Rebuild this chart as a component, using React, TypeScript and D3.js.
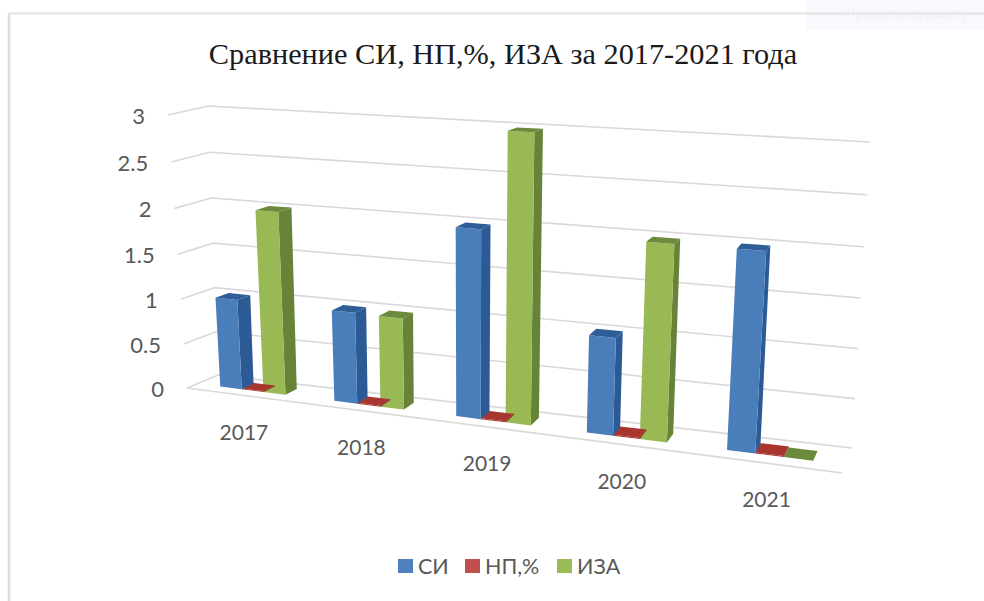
import React from "react";
import * as d3 from "d3";

const years = ["2017", "2018", "2019", "2020", "2021"];
const seriesNames = ["СИ", "НП,%", "ИЗА"];
const siValues = [1.0, 0.99, 1.98, 1.0, 1.98];
const npValues = [0.01, 0.01, 0.01, 0.01, 0.01];
const izaValues = [2.0, 0.98, 2.98, 1.98, 0];
const valueTicks = [0, 0.5, 1, 1.5, 2, 2.5, 3];

const values = [siValues, npValues, izaValues];
const faces = [
  { front: "#4a7ebb", side: "#2c5a94", top: "#2f5d97", key: "#4f81bd" },
  { front: "#a8352f", side: "#7f2622", top: "#a8352f", key: "#c0504d" },
  { front: "#98b954", side: "#668338", top: "#6b8a3b", key: "#9bbb59" },
];

// corners of the 3d box on the screen: [front, rear] x [left, right] x [bottom, top]
const box = {
  front: { left: [[187, 388], [168, 115]], right: [[842, 473], [866, 150]] },
  rear: { left: [[218, 375], [208, 106]], right: [[852, 448], [870, 142]] },
};

const mix = (a: number[], b: number[], t: number) => [a[0] + (b[0] - a[0]) * t, a[1] + (b[1] - a[1]) * t];

const PERSPECTIVE = 1.19;
const PERSPECTIVE_V = 1.04;
const vScale = d3.scaleLinear().domain([0, 3]).range([0, 1]);
const warp = (x: number, k: number) => x / (k + x * (1 - k));

// u = along the axis 0..1, d = depth 0..1, value = data value
const project = (u: number, d: number, value: number) => {
  const t = warp(u, PERSPECTIVE);
  const v = warp(vScale(value), PERSPECTIVE_V);
  const f = mix(mix(box.front.left[0], box.front.right[0], t), mix(box.front.left[1], box.front.right[1], t), v);
  const r = mix(mix(box.rear.left[0], box.rear.right[0], t), mix(box.rear.left[1], box.rear.right[1], t), v);
  return mix(f, r, d);
};

const groupScale = d3.scaleBand().domain(years).range([0, 1]).paddingInner(0.42).paddingOuter(0.21);
const barScale = d3.scaleBand().domain(seriesNames).range([0, groupScale.bandwidth()]);

const DEPTH_FRONT = 0.33;
const DEPTH_REAR = 0.73;

const poly = (pts: number[][]) => d3.line()(pts as [number, number][]) + "Z";

const App = () => {
  const bars: any[] = [];
  years.forEach((year, i) => {
    seriesNames.forEach((name, s) => {
      bars.push({ year, name, s, value: values[s][i], u0: groupScale(year)! + barScale(name)!, u1: groupScale(year)! + barScale(name)! + barScale.bandwidth() });
    });
  });

  return (
    <svg width={984} height={601} style={{ position: "absolute", left: 0, top: 0, background: "#fff" }}>
      <rect x={806} y={0} width={178} height={30} fill="#f8f9fd" />
      <text x={846} y={18} fontFamily="Roboto" fontSize={13} fill="#f0f1f6">
        Продолжить работу
      </text>
      <line x1={9} y1={13.5} x2={984} y2={13.5} stroke="#e3e3e3" strokeWidth={2} />
      <line x1={9} y1={13} x2={9} y2={601} stroke="#dedede" strokeWidth={2.5} />

      <text x={503} y={64} textAnchor="middle" fontFamily="Liberation Serif" fontSize={30.3} fill="#1a1a1a">
        Сравнение СИ, НП,%, ИЗА за 2017-2021 года
      </text>

      {valueTicks.map((tick) => {
        const a = project(0, 0, tick);
        const b = project(0, 1, tick);
        const c = project(1, 1, tick);
        return (
          <g key={tick}>
            <path d={d3.line()([a, b, c] as [number, number][])!} fill="none" stroke="#d9d9d9" strokeWidth={1.6} />
            <text x={a[0] - 23} y={a[1] + 1} dy="0.35em" textAnchor="end" fontFamily="Lato" fontSize={22} fill="#595959">
              {tick}
            </text>
          </g>
        );
      })}
      <path d={d3.line()([project(0, 0, 0), project(1, 0, 0)] as [number, number][])!} stroke="#d9d9d9" strokeWidth={1.6} />

      {years.map((year) => {
        const p = project(groupScale(year)! + groupScale.bandwidth() / 2, 0, 0);
        return (
          <text key={year} x={p[0] + 1} y={p[1] + 37} dy="0.35em" textAnchor="middle" fontFamily="Lato" fontSize={21} fill="#595959">
            {year}
          </text>
        );
      })}

      {/* right to left so that a bar's side covers its neighbour */}
      {bars.slice().reverse().map((b) => {
        const c = faces[b.s];
        const fb0 = project(b.u0, DEPTH_FRONT, 0);
        const fb1 = project(b.u1, DEPTH_FRONT, 0);
        const ft0 = project(b.u0, DEPTH_FRONT, b.value);
        const ft1 = project(b.u1, DEPTH_FRONT, b.value);
        const rb1 = project(b.u1, DEPTH_REAR, 0);
        const rt0 = project(b.u0, DEPTH_REAR, b.value);
        const rt1 = project(b.u1, DEPTH_REAR, b.value);
        return (
          <g key={b.year + b.name}>
            <path d={poly([fb1, rb1, rt1, ft1])} fill={c.side} />
            <path d={poly([fb0, fb1, ft1, ft0])} fill={c.front} />
            <path d={poly([ft0, ft1, rt1, rt0])} fill={c.top} />
          </g>
        );
      })}

      {seriesNames.map((name, s) => {
        const xs = [398, 465, 557];
        return (
          <g key={name} transform={`translate(${xs[s]},0)`}>
            <rect x={0} y={559} width={15} height={14} fill={faces[s].key} />
            <text x={20} y={566} dy="0.35em" fontFamily="Lato" fontSize={21.5} fill="#595959">
              {name}
            </text>
          </g>
        );
      })}
    </svg>
  );
};

export default App;
